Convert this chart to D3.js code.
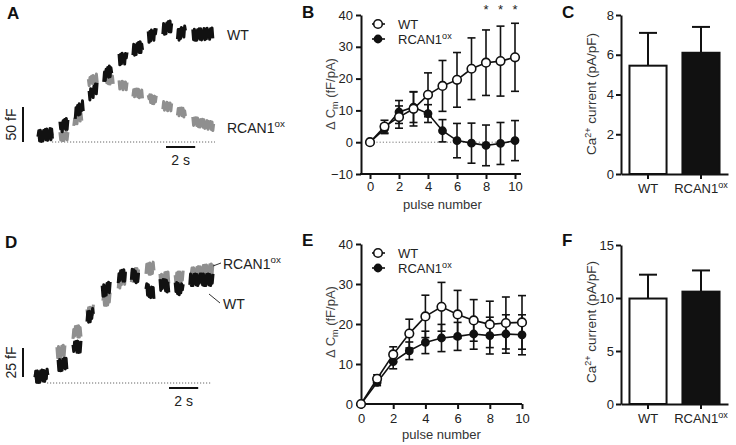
<!DOCTYPE html>
<html><head><meta charset="utf-8">
<script src="https://cdn.jsdelivr.net/npm/d3@7"></script>
<style>
body{margin:0;background:#fff;}
svg{display:block;font-family:Arial,"Liberation Sans",sans-serif;}
</style></head><body>
<svg id="c" width="736" height="445"></svg>
<script>
// ---------------- data ----------------
const pulses = [0,1,2,3,4,5,6,7,8,9,10];
const bWT    = [0,4.9,7.9,10.5,14.9,17.7,19.6,23.1,25.0,25.5,26.7];
const bWTerr = [0,2.0,3.5,5.4,6.9,8.0,8.6,9.7,10.3,11.0,10.7];
const bRC    = [0,4.2,9.5,11.0,9.0,3.6,0.5,-0.3,-1.0,-0.4,0.5];
const bRCerr = [0,1.5,3.6,4.8,2.8,3.5,5.4,6.3,6.4,6.6,6.3];
const bSig   = [8,9,10];
const eWT    = [0,6.3,12.4,17.6,21.9,24.3,22.4,20.9,19.9,20.25,20.4];
const eWTerr = [0,1.0,1.9,3.6,5.3,6.1,6.0,5.2,5.8,6.5,6.7];
const eRC    = [0,5.4,10.6,13.3,15.4,16.5,16.9,17.5,17.1,17.5,17.3];
const eRCerr = [0,0.8,1.8,2.2,2.8,3.4,3.5,3.8,4.6,4.8,5.0];
const groups = ["WT","RCAN1"];
const cMean = [5.45,6.1];  const cErr = [1.65,1.3];
const fMean = [9.95,10.6]; const fErr = [2.25,2.0];
// capacitance trace segments: [t start (s), t end (s), fF start, fF end]
const aWT = [[0.0,1.0,8,12],[1.5,2.1,21,27],[2.55,3.1,41,52],[3.5,4.1,66,78],[4.5,5.1,94,104],
  [5.55,6.1,118,120],[6.5,7.2,131,137],[7.55,8.15,150,155],[8.55,9.2,161,166],[9.55,10.15,152,160],[10.6,12.0,153,155]];
const aRC = [[0.0,1.0,7,9],[1.5,2.1,8,8],[2.45,3.05,29,37],[3.45,4.1,86,92],[4.55,5.2,90,88],
  [5.55,6.15,82,79],[6.5,7.2,71,68],[7.55,8.15,62,60],[8.55,9.2,52,49],[9.55,10.15,44,41],[10.6,12.05,30,22]];
const dWT = [[0,0.9,5,7],[1.58,2.2,15,17],[2.6,3.2,30,32],[3.56,4.05,56,60],[4.6,5.2,79,83],[5.7,6.2,91,93],
  [6.6,7.1,94,90],[7.6,8.15,81,77],[8.56,9.2,85,83],[9.6,10.2,82,80],[10.6,12.2,89,89]];
const dRC = [[0,0.9,5,7],[1.5,2.1,26,28],[2.6,3.15,43,45],[3.56,4.05,59,63],[4.65,5.15,71,73],[5.7,6.2,86,90],
  [6.6,7.1,92,95],[7.6,8.15,97,100],[8.56,9.2,89,91],[9.6,10.2,90,92],[10.7,12.2,94,98]];
// recording noise (fF), read as typical jitter amplitude
const jitA  = [0,8,-7,8,-8,5,-8,7,-3,8,-7,8,-8,4,-5,8,-8,7,-7,8,-3,5,-8,7];
const jitAg = [0,6,-5,6,-6,4,-6,5,-3,6,-5,6,-6,3,-4,6,-6,5];
const jitD  = [0,5,-4.5,5,-5,3,-5,4.5,-3,5,-4.5,4.5,-5,3,-3,5];
const scaleBarA = {fF:50, s:2};
const scaleBarD = {fF:25, s:2};

// ---------------- drawing ----------------
const svg = d3.select("#c");
const BLACK="#111", GRAY="#8f8f8f";

function panelLetter(t,x,y){
  svg.append("text").attr("x",x).attr("y",y).attr("font-size",17).attr("font-weight","bold").attr("fill","#111").text(t);
}
panelLetter("A",7,19); panelLetter("B",302,18); panelLetter("C",562,18);
panelLetter("D",5,248); panelLetter("E",302,246); panelLetter("F",562,246);

function segPath(segs, jit, x, y){
  const pts=[]; let k=0;
  segs.forEach(s=>{
    const run=[];
    for(let t=s[0]; t<=s[1]+1e-9; t+=0.055){
      const f=(t-s[0])/(s[1]-s[0]);
      run.push([x(t), y(s[2]+(s[3]-s[2])*f + jit[k%jit.length])]); k++;
    }
    pts.push(run);
  });
  return pts.map(r=>d3.line()(r)).join("");
}

function tracePanel(opt){
  const g=svg.append("g");
  const x=d3.scaleLinear().domain([0,12]).range([opt.x0,opt.x0+12*14.6]);
  const y=d3.scaleLinear().domain([0,opt.bar.fF]).range([opt.base,opt.base-opt.barPx]);
  g.append("line").attr("x1",opt.dot[0]).attr("x2",opt.dot[1]).attr("y1",y(0)).attr("y2",y(0))
    .attr("stroke","#666").attr("stroke-width",1).attr("stroke-dasharray","1.2,1.8");
  g.append("path").attr("d",segPath(opt.rc,opt.jg,x,y)).attr("fill","none").attr("stroke",GRAY).attr("stroke-width",3).attr("stroke-linejoin","round");
  g.append("path").attr("d",segPath(opt.wt,opt.jb,x,y)).attr("fill","none").attr("stroke",BLACK).attr("stroke-width",3).attr("stroke-linejoin","round");
  // scale bars
  g.append("line").attr("x1",23).attr("x2",23).attr("y1",y(opt.vb0)).attr("y2",y(opt.vb0+opt.bar.fF)).attr("stroke",BLACK).attr("stroke-width",2);
  const hx=opt.hbx, hy=opt.hby;
  g.append("line").attr("x1",hx).attr("x2",hx+ (x(opt.bar.s)-x(0))).attr("y1",hy).attr("y2",hy).attr("stroke",BLACK).attr("stroke-width",2);
  g.append("text").attr("x",hx+(x(opt.bar.s)-x(0))/2).attr("y",hy+18).attr("text-anchor","middle").attr("font-size",14).attr("fill","#222").text(opt.bar.s+" s");
  g.append("text").attr("transform",`translate(16,${(y(opt.vb0)+y(opt.vb0+opt.bar.fF))/2}) rotate(-90)`).attr("text-anchor","middle")
    .attr("font-size",14).attr("fill","#222").text(opt.bar.fF+" fF");
  return {x,y,g};
}
function rcanText(sel,size){
  sel.append("tspan").text("RCAN1");
  sel.append("tspan").attr("dy",-size*0.42).attr("font-size",size*0.7).text("ox");
}

const A = tracePanel({x0:38, base:142, barPx:35, bar:scaleBarA, wt:aWT, rc:aRC, jb:jitA, jg:jitAg, dot:[52,215], vb0:0, hbx:166, hby:147});
A.g.append("text").attr("x",227).attr("y",40).attr("font-size",14).attr("fill","#222").text("WT");
rcanText(A.g.append("text").attr("x",227).attr("y",133).attr("font-size",14).attr("fill","#222"),14);

const D = tracePanel({x0:35, base:383, barPx:29, bar:scaleBarD, wt:dWT, rc:dRC, jb:jitD, jg:jitD, dot:[47,212], vb0:5.2, hbx:169, hby:388});
rcanText(D.g.append("text").attr("x",223).attr("y",269).attr("font-size",14).attr("fill","#222"),14);
D.g.append("text").attr("x",223).attr("y",309).attr("font-size",14).attr("fill","#222").text("WT");
D.g.append("line").attr("x1",213).attr("y1",266).attr("x2",221).attr("y2",263).attr("stroke","#333").attr("stroke-width",1);
D.g.append("line").attr("x1",209).attr("y1",294).attr("x2",220).attr("y2",303).attr("stroke","#333").attr("stroke-width",1);

function styleAxis(g){
  g.selectAll("path.domain").attr("stroke",BLACK).attr("stroke-width",2);
  g.selectAll(".tick line").attr("stroke",BLACK).attr("stroke-width",2);
  g.selectAll(".tick text").attr("font-size",13).attr("fill","#222").attr("font-family",null);
}

function linePanel(o){
  const x=d3.scaleLinear().domain([0,10]).range(o.xr);
  const y=d3.scaleLinear().domain(o.yd).range(o.yr);
  const g=svg.append("g");
  const ya=g.append("g").attr("transform",`translate(${o.ax},0)`)
    .call(d3.axisLeft(y).tickValues(o.yt).tickSize(5).tickSizeOuter(0).tickPadding(3));
  styleAxis(ya);
  const xa=g.append("g").attr("transform",`translate(0,${o.yr[0]})`)
    .call(d3.axisBottom(x).tickValues([0,2,4,6,8,10]).tickSize(5).tickSizeOuter(0).tickPadding(o.xpad));
  styleAxis(xa); xa.select("path.domain").remove();
  g.append("line").attr("x1",o.ax-1).attr("x2",o.xr[1]+o.xext).attr("y1",o.yr[0]).attr("y2",o.yr[0]).attr("stroke",BLACK).attr("stroke-width",2);
  if(o.zero) g.append("line").attr("x1",x(0)).attr("x2",x(10)+5).attr("y1",y(0)).attr("y2",y(0)).attr("stroke","#777").attr("stroke-width",1).attr("stroke-dasharray","1.2,2");
  // labels
  const yl=g.append("text").attr("transform",`translate(${o.ylx},${o.yly}) rotate(-90)`).attr("text-anchor","middle").attr("font-size",13).attr("fill","#444");
  yl.append("tspan").text("\u0394 C");
  yl.append("tspan").attr("dy",3).attr("font-size",9).text("m");
  yl.append("tspan").attr("dy",-3).text(" (fF/pA)");
  g.append("text").attr("x",(o.xr[0]+o.xr[1])/2).attr("y",o.xly).attr("text-anchor","middle").attr("font-size",13).attr("fill","#333").text("pulse number");
  // series
  const series=[{v:o.rc,e:o.rcErr,open:false,r:3.6},{v:o.wt,e:o.wtErr,open:true,r:4.3}];
  series.forEach(s=>{
    const eg=g.append("g").attr("stroke",BLACK).attr("stroke-width",1.6);
    pulses.forEach((p,i)=>{
      if(!s.e[i]) return;
      const x0=x(p), yt=y(s.v[i]+s.e[i]), yb=y(s.v[i]-s.e[i]);
      eg.append("line").attr("x1",x0).attr("x2",x0).attr("y1",yt).attr("y2",yb);
      eg.append("line").attr("x1",x0-4).attr("x2",x0+4).attr("y1",yt).attr("y2",yt);
      eg.append("line").attr("x1",x0-4).attr("x2",x0+4).attr("y1",yb).attr("y2",yb);
    });
  });
  series.forEach(s=>{
    g.append("path").datum(pulses).attr("fill","none").attr("stroke",BLACK).attr("stroke-width",1.6)
      .attr("d",d3.line().x(p=>x(p)).y((p,i)=>y(s.v[i])));
  });
  series.forEach(s=>{
    g.selectAll(null).data(pulses).enter().append("circle").attr("cx",p=>x(p)).attr("cy",(p,i)=>y(s.v[i]))
      .attr("r",s.r).attr("fill",s.open?"#fff":BLACK).attr("stroke",BLACK).attr("stroke-width",1.6);
  });
  // legend
  [[o.legY,true,"WT"],[o.legY+15,false,null]].forEach(([ly,open,t])=>{
    g.append("line").attr("x1",o.legX-6).attr("x2",o.legX+7).attr("y1",ly).attr("y2",ly).attr("stroke",BLACK).attr("stroke-width",1.6);
    g.append("circle").attr("cx",o.legX).attr("cy",ly).attr("r",open?4.3:3.6).attr("fill",open?"#fff":BLACK).attr("stroke",BLACK).attr("stroke-width",1.6);
    const tx=g.append("text").attr("x",o.legX+20).attr("y",ly+5).attr("font-size",13).attr("fill","#222");
    if(t) tx.text(t); else rcanText(tx,13);
  });
  return {x,y,g};
}

const B=linePanel({xr:[370,515], yd:[-10,40], yr:[174,15], yt:[-10,0,10,20,30,40], ax:361, xext:6, xpad:3,
  wt:bWT, wtErr:bWTerr, rc:bRC, rcErr:bRCerr, zero:true, ylx:335, yly:94, xly:209, legX:378, legY:24});
bSig.forEach(p=>B.g.append("text").attr("x",B.x(p)).attr("y",14).attr("text-anchor","middle").attr("font-size",13).attr("fill","#222").text("*"));

linePanel({xr:[361,522], yd:[0,40], yr:[404,244], yt:[0,10,20,30,40], ax:361, xext:0, xpad:5,
  wt:eWT, wtErr:eWTerr, rc:eRC, rcErr:eRCerr, zero:false, ylx:335, yly:322, xly:439, legX:378, legY:253});

function barPanel(o){
  const x=d3.scaleBand().domain(groups).range([621,728]).paddingInner(0.3).paddingOuter(0.16);
  const y=d3.scaleLinear().domain(o.yd).range(o.yr);
  const g=svg.append("g");
  const ya=g.append("g").attr("transform","translate(621,0)").call(d3.axisLeft(y).tickValues(o.yt).tickSize(5).tickSizeOuter(0).tickPadding(2));
  styleAxis(ya);
  const xa=g.append("g").attr("transform",`translate(0,${o.yr[0]})`).call(d3.axisBottom(x).tickSize(5).tickSizeOuter(0).tickFormat(""));
  styleAxis(xa);
  groups.forEach((k,i)=>{
    const cx=x(k)+x.bandwidth()/2;
    g.append("line").attr("x1",cx).attr("x2",cx).attr("y1",y(o.m[i])).attr("y2",y(o.m[i]+o.e[i])).attr("stroke",BLACK).attr("stroke-width",2);
    g.append("line").attr("x1",cx-9).attr("x2",cx+9).attr("y1",y(o.m[i]+o.e[i])).attr("y2",y(o.m[i]+o.e[i])).attr("stroke",BLACK).attr("stroke-width",2);
    g.append("rect").attr("x",x(k)).attr("width",x.bandwidth()).attr("y",y(o.m[i])).attr("height",y(0)-y(o.m[i]))
      .attr("fill",i?BLACK:"#fff").attr("stroke",BLACK).attr("stroke-width",2);
    const t=g.append("text").attr("x",cx).attr("y",o.yr[0]+19).attr("text-anchor","middle").attr("font-size",13).attr("fill","#222");
    if(i) rcanText(t,13); else t.text(k);
  });
  const yl=g.append("text").attr("transform",`translate(596,${o.yly}) rotate(-90)`).attr("text-anchor","middle").attr("font-size",13.5).attr("fill","#333");
  yl.append("tspan").text("Ca");
  yl.append("tspan").attr("dy",-5).attr("font-size",9).text("2+");
  yl.append("tspan").attr("dy",5).text(" current (pA/pF)");
}
barPanel({yd:[0,8], yr:[174,15], yt:[0,2,4,6,8], m:cMean, e:cErr, yly:94});
barPanel({yd:[0,15], yr:[404,245], yt:[0,5,10,15], m:fMean, e:fErr, yly:322});
</script></body></html>
